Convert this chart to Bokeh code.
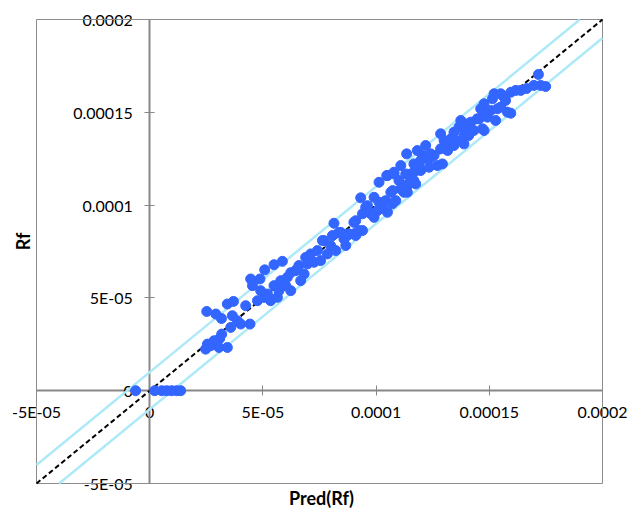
import numpy as np
from bokeh.plotting import figure
from bokeh.models import LinearAxis, FixedTicker, CustomJSTickFormatter, Label, ColumnDataSource
from bokeh.embed import file_html
from bokeh.resources import INLINE

# values in units of 1e-6
zero_pred_u = [-6.2, 2.2, 5.3, 7.5, 9.7, 11.9, 13.7]
zero_rf_u = [0, 0, 0, 0, 0, 0, 0]

pred_u = [25.2,29.2,31.7,34.3,37.0,42.4,36.5,38.7,40.2,44.3,35.8,31.8,28.4,25.5,24.7,30.6,34.3,26.9,30.9,
          44.6,48.7,45.4,50.8,54.9,58.6,47.6,50.5,53.4,56.4,54.9,57.9,60.8,57.1,62.3,52.0,64.5,66.7,65.9,68.9,72.6,68.2,60.1,71.1,74.1,78.5,75.5,69.7,65.2,
          77.0,80.7,84.4,87.3,90.2,94.0,81.4,90.2,79.9,76.3,85.8,83.6,91.0,88.0,
          94.0,96.9,99.1,96.2,93.2,99.1,101.3,104.2,105.0,107.2,106.5,110.9,113.8,114.5,101.3,105.0,107.9,115.3,117.5,
          91.0,92.4,95.4,100.6,97.6,102.8,108.7,112.3,110.1,113.1,110.9,107.9,116.7,113.5,118.2,121.9,120.5,123.4,121.2,125.6,127.1,129.3,119.7,123.4,115.3,116.7,113.8,116.7,
          128.5,130.0,133.0,134.4,132.2,135.2,138.8,134.4,136.6,137.4,140.3,141.8,144.7,143.2,147.7,147.0,149.2,146.2,147.7,150.6,151.4,152.1,155.0,159.5,163.9,169.7,172.7,174.9,171.7,
          155.0,159.5,158.0,153.6,155.8,161.7,166.5,128.5,124.1,138.8,145.5,148.4,138.1,104.7,
          86.6,82.2,107.3,119.7,131.6,140.9,152.8,157.2,62.3,49.0]
rf_u = [42.7,41.3,38.9,46.7,48.1,45.8,40.4,37.7,35.9,35.9,34.1,30.5,26.9,25.1,22.4,23.3,23.3,24.2,28.0,
        60.2,60.2,56.6,65.1,67.9,69.7,48.5,50.3,48.5,50.3,56.6,59.3,61.1,53.9,53.9,52.1,64.7,59.3,67.4,71.8,69.2,62.9,56.6,73.7,75.5,73.7,70.1,68.3,65.6,
        80.9,83.6,85.3,83.6,84.5,86.3,90.2,90.7,78.2,80.9,81.8,85.3,83.6,84.5,
        95.3,96.1,93.4,99.7,103.9,104.2,101.5,102.4,96.1,100.7,106.9,108.7,106.9,111.4,112.3,115.9,116.8,116.8,111.4,
        91.6,86.3,98.8,97.0,95.3,99.7,102.4,106.9,113.2,116.8,121.3,117.7,122.2,127.6,129.4,132.1,126.7,124.9,125.8,126.7,121.3,122.2,118.6,120.4,114.1,117.7,110.5,113.2,
        138.4,134.8,135.7,139.3,133.0,134.8,133.0,132.1,142.0,145.6,142.0,144.7,146.5,140.2,140.2,141.1,147.4,151.9,154.6,151.0,157.3,160.0,160.0,160.8,161.8,164.5,164.5,163.9,170.4,
        152.8,149.5,150.1,151.9,159.1,161.8,162.8,130.3,127.6,137.5,146.5,149.2,144.7,115.9,
        78.2,75.5,107.8,124.0,129.4,137.5,145.6,156.4,63.6,53.9]

tick_values = [-5e-05, 0.0, 5e-05, 0.0001, 0.00015, 0.0002]
tick_labels = ["-5E-05", "0", "5E-05", "0.0001", "0.00015", "0.0002"]
axis_min = -5e-05
axis_max = 0.0002
band_offset = 1e-05
x_title = "Pred(Rf)"
y_title = "Rf"

scale = 1e-06
pred = np.array(zero_pred_u + pred_u) * scale
rf = np.array(zero_rf_u + rf_u) * scale

# layout: canvas 628x510, plot area at pixels x 36..602, y 19..483
W, H = 628, 510
PL, PR, PT, PB = 36, 602, 19, 483
span = axis_max - axis_min
ux = span / (PR - PL)
uy = span / (PB - PT)
x_rng = (axis_min - PL * ux, axis_max + (W - PR) * ux)
y_rng = (axis_min - (H - PB) * uy, axis_max + PT * uy)

p = figure(width=W, height=H, x_range=x_rng, y_range=y_rng,
           output_backend="svg", toolbar_location=None, x_axis_type=None, y_axis_type=None,
           min_border=0)
p.outline_line_color = None
p.background_fill_color = "white"
p.border_fill_color = "white"

# plot-area border
p.quad(left=[axis_min], right=[axis_max], bottom=[axis_min], top=[axis_max],
       fill_color=None, line_color="#8c8c8c", line_width=1)

# reference lines (clipped to plot area)
band_color = "#aee9f8"
p.line([axis_min, axis_max - band_offset], [axis_min + band_offset, axis_max], line_color=band_color, line_width=2.5)
p.line([axis_min + band_offset, axis_max], [axis_min, axis_max - band_offset], line_color=band_color, line_width=2.5)
p.line([axis_min, axis_max], [axis_min, axis_max], line_color="black", line_width=2, line_dash="5 3")

src = ColumnDataSource(data=dict(x=pred, y=rf))
p.scatter("x", "y", source=src, size=10, fill_color="#3366ff", line_color="#3366ff")

fmt_code = """
let best = 0, d = Infinity;
for (let i = 0; i < vals.length; i++) { const e = Math.abs(vals[i] - tick); if (e < d) { d = e; best = i; } }
return labs[best];
"""

def make_axis():
    ax = LinearAxis(fixed_location=0, bounds=(axis_min, axis_max),
                    ticker=FixedTicker(ticks=tick_values),
                    formatter=CustomJSTickFormatter(args=dict(vals=tick_values, labs=tick_labels), code=fmt_code))
    ax.axis_line_color = "#878787"
    ax.axis_line_width = 2
    ax.major_tick_line_color = "#878787"
    ax.major_tick_line_width = 1
    ax.major_tick_in = 5
    ax.major_tick_out = 5
    ax.minor_tick_line_color = None
    ax.major_label_text_font = "Lato"
    ax.major_label_text_font_size = "16px"
    ax.major_label_text_color = "black"
    ax.level = "underlay"
    return ax

xax = make_axis()
xax.major_label_standoff = 6
p.add_layout(xax, "below")
yax = make_axis()
yax.major_label_standoff = 12
p.add_layout(yax, "left")

p.add_layout(Label(x=321, y=13, x_units="screen", y_units="screen", text=x_title,
                   text_font="Lato", text_font_size="18px", text_font_style="bold",
                   text_align="center", text_baseline="middle", text_color="black"))
p.add_layout(Label(x=22, y=269, x_units="screen", y_units="screen", text=y_title, angle=np.pi / 2,
                   text_font="Lato", text_font_size="18px", text_font_style="bold",
                   text_align="center", text_baseline="middle", text_color="black"))

open("out.html", "w").write(file_html(p, INLINE))
